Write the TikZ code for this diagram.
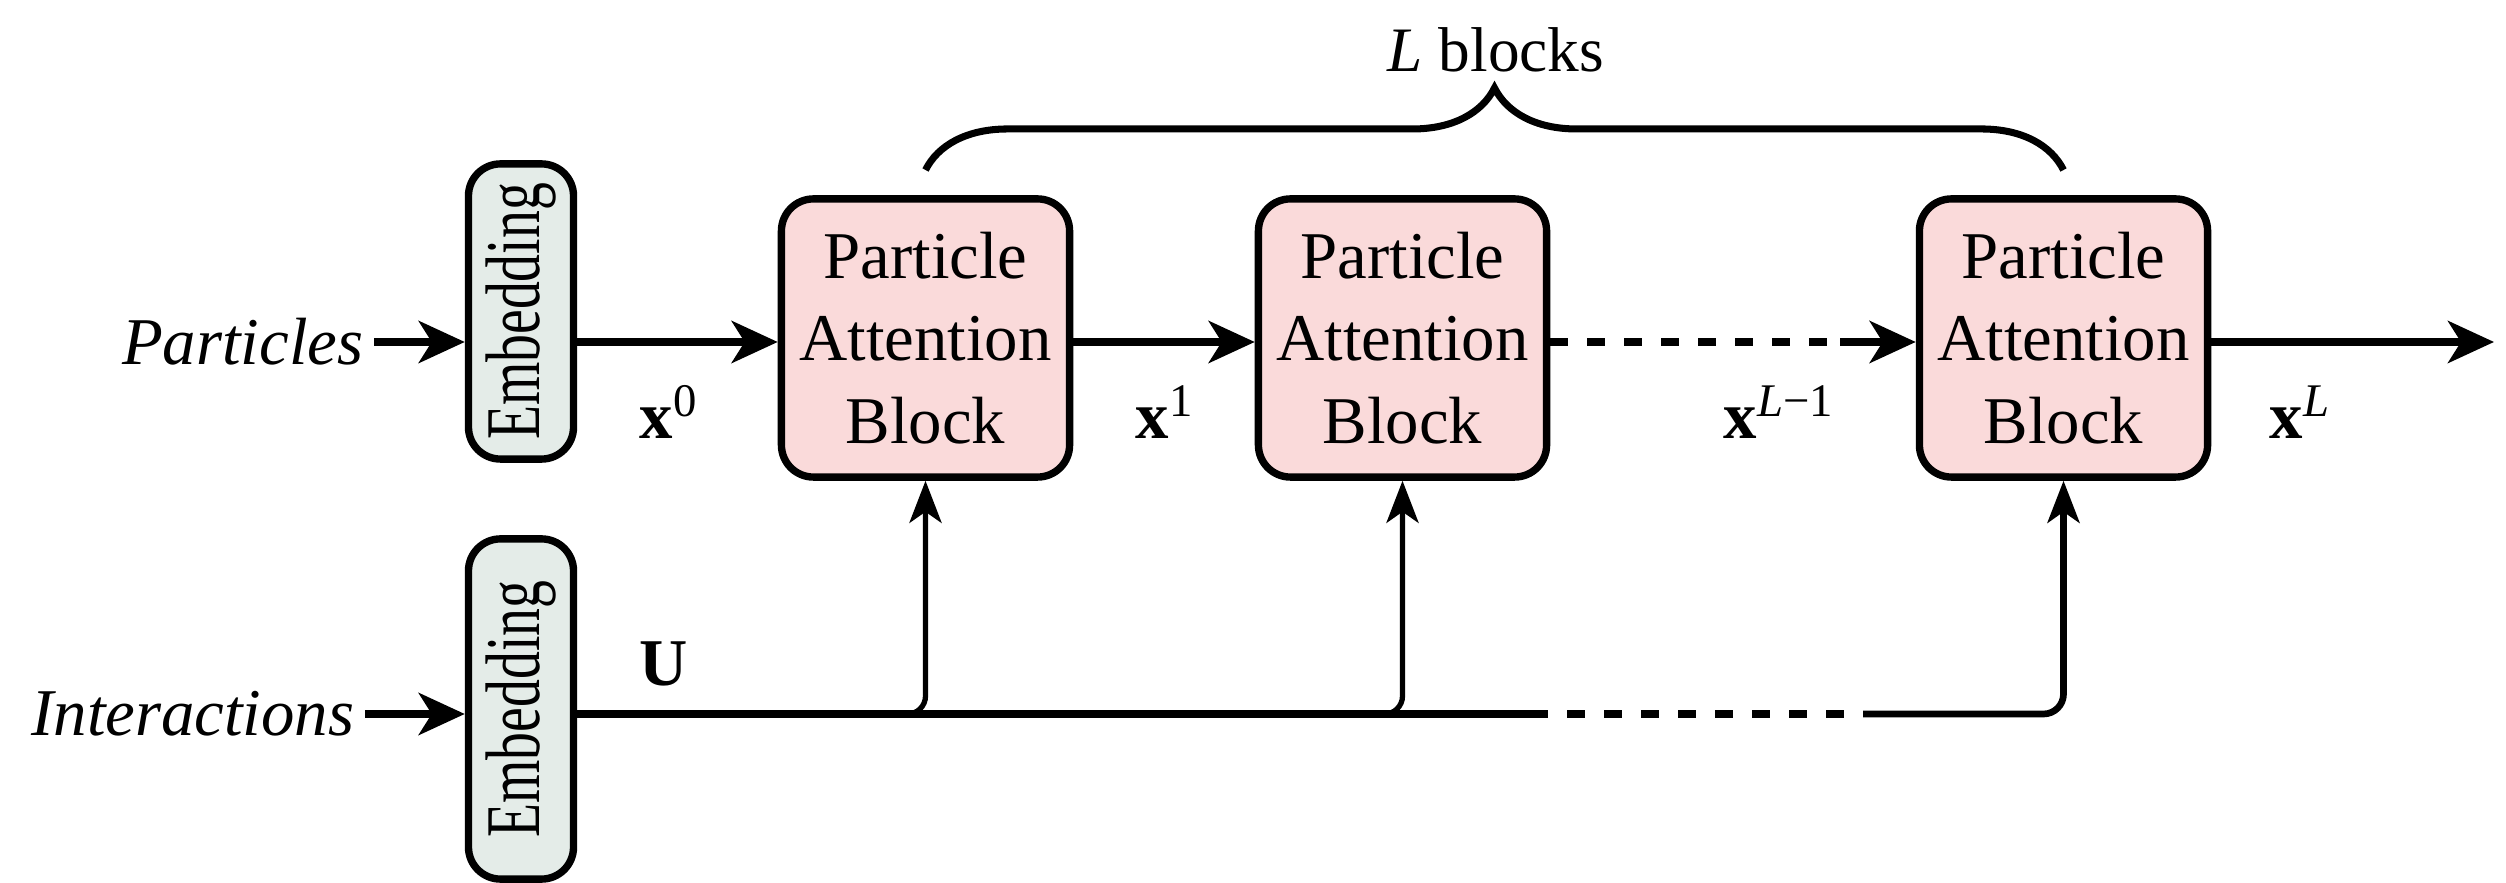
\documentclass[tikz,border=0pt]{standalone}
\usepackage{fontspec}
\setmainfont{Liberation Serif}
\usetikzlibrary{arrows.meta,decorations.pathreplacing}
\definecolor{pabfill}{RGB}{250,218,218}
\definecolor{embfill}{RGB}{228,236,232}
\begin{document}
\begin{tikzpicture}[x=0.01cm,y=-0.01cm,
  pab/.style={draw, line width=2.1pt, fill=pabfill, rounded corners=0.32cm,
    minimum width=2.88cm, minimum height=2.78cm, align=center, inner sep=0pt,
    font=\fontsize{19pt}{23.5pt}\selectfont},
  emb/.style={draw, line width=2.1pt, fill=embfill, rounded corners=0.32cm,
    minimum height=1.05cm, inner sep=0pt, rotate=90,
    font=\fontsize{22pt}{24pt}\selectfont},
  lbl/.style={inner sep=0pt, font=\fontsize{19pt}{23pt}\selectfont},
  conn/.style={line width=2.1pt},
  arr/.style={conn, -{Stealth[length=0.46cm, width=0.42cm, inset=0.13cm]}},
  uparr/.style={line width=1.5pt, rounded corners=0.18cm, -{Stealth[length=0.42cm, width=0.32cm, inset=0.11cm]}},
  dashpat/.style={dash pattern=on 0.18cm off 0.19cm},
  bdash/.style={dash pattern=on 0.18cm off 0.19cm}
]
\useasboundingbox (0,0) rectangle (2506,883);

% embeddings
\node[emb, minimum width=2.95cm] (e1) at (521,311.5) {\scalebox{0.72}[1]{Embedding}};
\node[emb, minimum width=3.40cm] (e2) at (521,709) {\scalebox{0.72}[1]{Embedding}};

% inputs
\node[lbl, anchor=east, inner xsep=0.1cm] (part) at (374,342) {\textit{Particles}};
\node[lbl, anchor=east, inner xsep=0.1cm] (int) at (365,714) {\textit{Interactions}};

% blocks
\node[pab] (p1) at (925.5,338) {Particle\\Attention\\Block};
\node[pab] (p2) at (1402.5,338) {Particle\\Attention\\Block};
\node[pab] (p3) at (2063.5,338) {Particle\\Attention\\Block};

% coordinates
\coordinate (dd) at (1840,342);
\coordinate (out) at (2494,342);
\coordinate (d1) at (1548,714);
\coordinate (d1b) at (1567,714);
\coordinate (d2a) at (1845,714);
\coordinate (d2) at (1863,714);
\coordinate (b1) at (925.5,170);
\coordinate (b2) at (2063.5,170);

% top flow
\draw[arr] (part.east) -- (e1.north |- dd);
\draw[arr] (e1.south |- dd) -- (p1.west |- dd);
\draw[arr] (p1.east |- dd) -- (p2.west |- dd);
\draw[conn, dashpat] (p2.east |- dd) -- (dd);
\draw[arr] (dd) -- (p3.west |- dd);
\draw[arr] (p3.east |- dd) -- (out);

% bottom flow
\draw[arr] (int.east) -- (e2.north |- int.east);
\draw[conn] (e2.south |- int.east) -- (d1);
\draw[conn, bdash] (d1b) -- (d2a);
\draw[uparr, line width=1.9pt, rounded corners=0.2cm] (d2) -| (p3.south);
\draw[uparr] ([xshift=-0.3cm]p1.south |- d1) -| (p1.south);
\draw[uparr] ([xshift=-0.3cm]p2.south |- d1) -| (p2.south);

% labels
\node[lbl, anchor=base west] (x0) at (639,439) {\textbf{x}\textsuperscript{0}};
\node[lbl, anchor=base west] (x1) at (1135,439) {\textbf{x}\textsuperscript{1}};
\node[lbl, anchor=base west] (xl1) at (1723,439) {\textbf{x}\textsuperscript{\textit{L}−1}};
\node[lbl, anchor=base west] (xl) at (2269,439) {\textbf{x}\textsuperscript{\textit{L}}};
\node[lbl, anchor=base west] (u) at (639,686) {\textbf{U}};

% brace
\draw[line width=2pt, decorate, decoration={brace, amplitude=0.82cm}] (b1) -- (b2);
\node[lbl, font=\fontsize{18pt}{22pt}\selectfont] (lb) at (1496,50) {\textit{L} blocks};
\end{tikzpicture}
\end{document}
